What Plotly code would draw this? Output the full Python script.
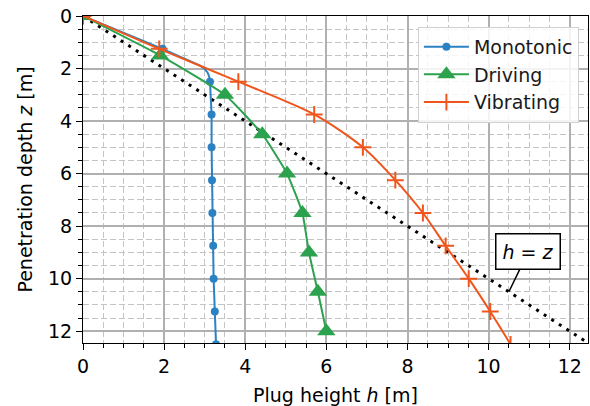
import plotly.graph_objects as go

# ---- data ----
mono_h = [0.0, 1.96, 3.13, 3.17, 3.17, 3.18, 3.19, 3.21, 3.22, 3.25, 3.28]
mono_z = [0.0, 1.25, 2.5, 3.75, 5.0, 6.25, 7.5, 8.75, 10.0, 11.25, 12.5]
# line path of monotonic curve incl. the bend near z=2
mono_line_h = [0.0, 1.96, 2.9, 3.0, 3.07, 3.11, 3.13, 3.17, 3.17, 3.18, 3.19, 3.21, 3.22, 3.25, 3.28]
mono_line_z = [0.0, 1.25, 1.9, 2.02, 2.15, 2.3, 2.5, 3.75, 5.0, 6.25, 7.5, 8.75, 10.0, 11.25, 12.5]

drive_h = [0.0, 1.9, 3.5, 4.42, 5.03, 5.41, 5.57, 5.79, 6.0]
drive_z = [0.0, 1.5, 3.0, 4.5, 6.0, 7.5, 9.0, 10.5, 12.0]

vib_h = [0.0, 1.88, 3.83, 5.7, 6.9, 7.7, 8.38, 8.94, 9.51, 10.04, 10.54]
vib_z = [0.0, 1.25, 2.5, 3.75, 5.0, 6.25, 7.5, 8.75, 10.0, 11.25, 12.5]

ref_hz = [0.0, 12.5]

C_BLUE = "#2b82c3"
C_GREEN = "#2ca24e"
C_ORANGE = "#f0561c"
FONT = "DejaVu Sans"
FS = 19

fig = go.Figure()

# h = z reference line
fig.add_trace(go.Scatter(x=ref_hz, y=ref_hz, mode="lines",
                         line=dict(color="black", width=3, dash="3px,6px"),
                         showlegend=False, hoverinfo="skip"))

# Monotonic
fig.add_trace(go.Scatter(x=mono_line_h, y=mono_line_z, mode="lines",
                         line=dict(color=C_BLUE, width=2), showlegend=False))
fig.add_trace(go.Scatter(x=mono_h, y=mono_z, mode="markers",
                         marker=dict(color=C_BLUE, size=8, symbol="circle"),
                         showlegend=False))
# Driving
fig.add_trace(go.Scatter(x=drive_h, y=drive_z, mode="lines+markers",
                         line=dict(color=C_GREEN, width=2, shape="spline", smoothing=0.4),
                         marker=dict(color=C_GREEN, size=16, symbol="triangle-up"),
                         showlegend=False))
# Vibrating
fig.add_trace(go.Scatter(x=vib_h, y=vib_z, mode="lines+markers",
                         line=dict(color=C_ORANGE, width=2, shape="spline", smoothing=0.8),
                         marker=dict(color=C_ORANGE, size=12, symbol="cross-thin",
                                     line=dict(color=C_ORANGE, width=2)),
                         showlegend=False))

# legend entries
fig.add_trace(go.Scatter(x=[None], y=[None], mode="lines+markers", name="Monotonic",
                         line=dict(color=C_BLUE, width=2),
                         marker=dict(color=C_BLUE, size=8, symbol="circle")))
fig.add_trace(go.Scatter(x=[None], y=[None], mode="lines+markers", name="Driving",
                         line=dict(color=C_GREEN, width=2),
                         marker=dict(color=C_GREEN, size=16, symbol="triangle-up")))
fig.add_trace(go.Scatter(x=[None], y=[None], mode="lines+markers", name="Vibrating",
                         line=dict(color=C_ORANGE, width=2),
                         marker=dict(color=C_ORANGE, size=12, symbol="cross-thin",
                                     line=dict(color=C_ORANGE, width=2))))

axis_common = dict(
    showline=True, linecolor="black", linewidth=1.2, mirror=True,
    ticks="outside", ticklen=6, tickwidth=1.2, tickcolor="black",
    dtick=2, tick0=0,
    showgrid=True, gridcolor="#b0b0b0", gridwidth=1.5,
    zeroline=False,
    tickfont=dict(family=FONT, size=FS, color="black"),
    minor=dict(dtick=0.5, tick0=0, ticks="outside", ticklen=3.5, tickcolor="black",
               showgrid=True, gridcolor="#c4c4c4", gridwidth=1, griddash="6px,3px"),
)

fig.update_xaxes(range=[0, 12.45],
                 title=dict(text="Plug height <i>h</i> [m]", standoff=12,
                            font=dict(family=FONT, size=FS, color="black")),
                 **axis_common)
fig.update_yaxes(range=[12.45, 0],
                 title=dict(text="Penetration depth <i>z</i> [m]", standoff=10,
                            font=dict(family=FONT, size=FS, color="black")),
                 **axis_common)

fig.add_annotation(x=10.5, y=10.5, ax=10.98, ay=8.97, xref="x", yref="y",
                   axref="x", ayref="y",
                   text="<i>h</i> = <i>z</i>", showarrow=True, arrowhead=0,
                   arrowwidth=1.5, arrowcolor="black",
                   font=dict(family=FONT, size=FS, color="black"),
                   bgcolor="white", bordercolor="black", borderwidth=1.5, borderpad=6)

fig.update_layout(
    width=590, height=406,
    margin=dict(l=83, r=2, t=16, b=63),
    paper_bgcolor="white", plot_bgcolor="white",
    font=dict(family=FONT, size=FS, color="black"),
    legend=dict(x=0.982, y=0.967, xanchor="right", yanchor="top",
                bgcolor="rgba(255,255,255,0.85)", bordercolor="#d0d0d0", borderwidth=1,
                font=dict(family=FONT, size=FS, color="#1a1a1a"),
                tracegroupgap=0, itemwidth=45),
)

fig.write_html("out.html")
